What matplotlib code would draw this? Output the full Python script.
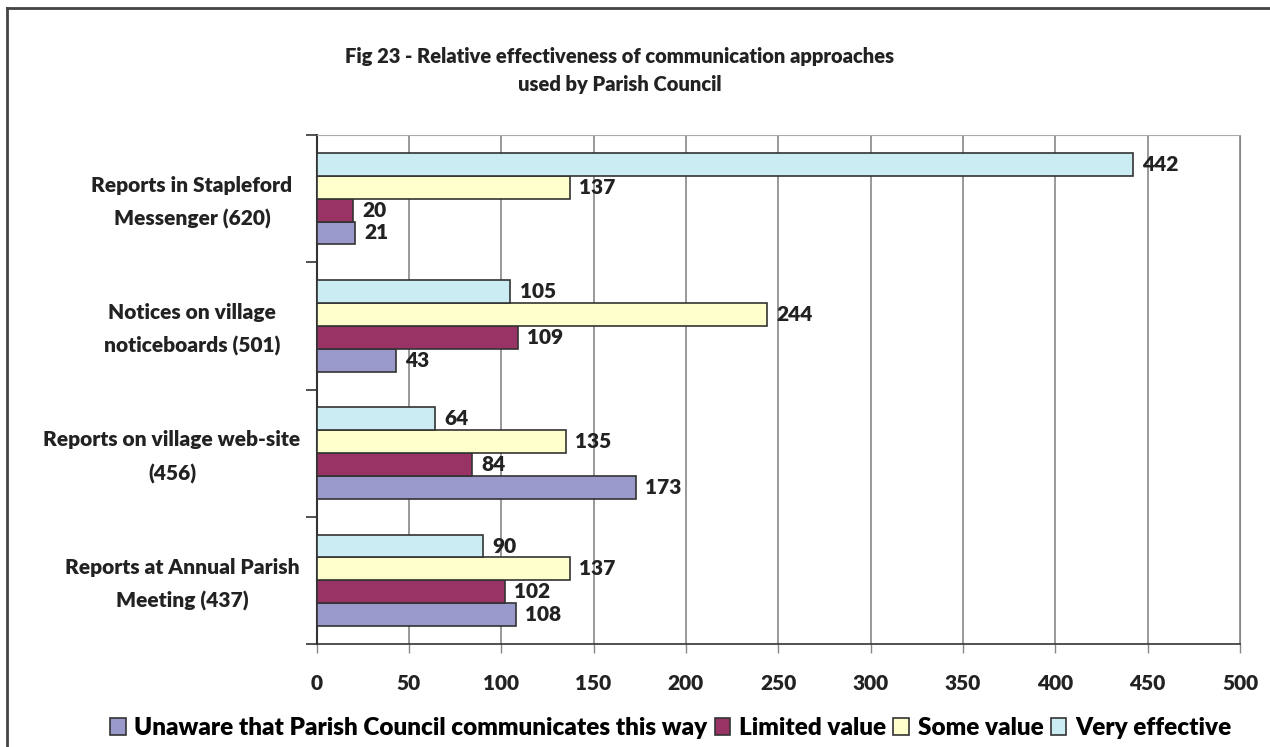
import numpy as np
import matplotlib
matplotlib.use("Agg")
import matplotlib.pyplot as plt
from matplotlib.lines import Line2D
from matplotlib.patches import Patch

plt.rcParams["font.family"] = ["Lato", "DejaVu Sans"]
plt.rcParams["font.weight"] = "heavy"

categories = ["Reports in Stapleford\nMessenger (620)",
              "Notices on village\nnoticeboards (501)",
              "Reports on village web-site\n(456)",
              "Reports at Annual Parish\nMeeting (437)"]
series_names = ["Unaware that Parish Council communicates this way",
                "Limited value", "Some value", "Very effective"]
unaware = [21, 43, 173, 108]
limited = [20, 109, 84, 102]
some_value = [137, 244, 135, 137]
very_effective = [442, 105, 64, 90]
xticks = [0, 50, 100, 150, 200, 250, 300, 350, 400, 450, 500]

colors = ["#9999cc", "#993366", "#ffffcc", "#ccecf4"]
edge = "#333333"
txt = "#222222"
W = "heavy"

fig = plt.figure(figsize=(12.7, 7.47), dpi=100)
ax_left, ax_w = 316.5 / 1270, (1240 - 316.5) / 1270
ax = fig.add_axes([ax_left, 1 - 644 / 747, ax_w, (644 - 135) / 747])

series = [unaware, limited, some_value, very_effective]
n = len(categories)
bh = 0.18
centers = np.arange(n)[::-1].astype(float)  # first category on top
# Very effective on top of each group, Unaware at the bottom
offsets = [-1.5 * bh, -0.5 * bh, 0.5 * bh, 1.5 * bh]
for vals, col, off in zip(series, colors, offsets):
    ys = centers + off
    ax.barh(ys, vals, height=bh, color=col, edgecolor=edge, linewidth=1.2, zorder=3)
    for y, v in zip(ys, vals):
        ax.text(v + 5, y, str(v), va="center", ha="left", fontsize=15,
                fontweight=W, color=txt, zorder=4)

ax.set_xlim(0, 500)
ax.set_ylim(-0.5, n - 0.5)
ax.set_xticks(xticks)
ax.set_xticklabels([str(t) for t in xticks], fontsize=15, fontweight=W, color=txt)
ax.set_yticks(np.arange(n + 1) - 0.5)
ax.set_yticklabels([])
ax.tick_params(axis="y", which="major", length=8, width=1.2, color=edge)
ax.tick_params(axis="x", length=6.5, width=1, color="#888888", pad=15)
ax.grid(axis="x", color="#888888", linewidth=1.2, zorder=0)
ax.spines["left"].set_color(edge)
ax.spines["left"].set_linewidth(1.5)
ax.spines["bottom"].set_color(edge)
ax.spines["bottom"].set_linewidth(1.2)
ax.spines["top"].set_color("#aaaaaa")
ax.spines["right"].set_color("#888888")

# category labels, centred in a box left of the axis (long ones pushed left)
label_cx = [192, 192, 172, 182]  # pixel centres
for lab, y, cx in zip(categories, centers, label_cx):
    ax.text((cx / 1270 - ax_left) / ax_w, y - 0.03, lab, transform=ax.get_yaxis_transform(),
            ha="center", va="center", multialignment="center", fontsize=15,
            fontweight=W, color=txt, linespacing=1.85)

fig.text(0.488, 0.906, "Fig 23 - Relative effectiveness of communication approaches\nused by Parish Council",
         ha="center", va="center", fontsize=14.5, fontweight=W, color=txt, linespacing=1.55)

handles = [Patch(facecolor=c, edgecolor=edge, linewidth=1.2) for c in colors]
fig.legend(handles, series_names, loc="center", bbox_to_anchor=(0.528, 0.026), ncol=4,
           frameon=False, fontsize=17.5, handlelength=0.65, handleheight=0.7,
           handletextpad=0.35, columnspacing=0.3)

# outer chart border
fig.add_artist(Line2D([7 / 1270, 7 / 1270], [0, 1 - 8 / 747], transform=fig.transFigure,
                      color="#444444", linewidth=2))
fig.add_artist(Line2D([7 / 1270, 1], [1 - 8 / 747, 1 - 8 / 747], transform=fig.transFigure,
                      color="#444444", linewidth=2))

fig.savefig("out.png", dpi=100)
